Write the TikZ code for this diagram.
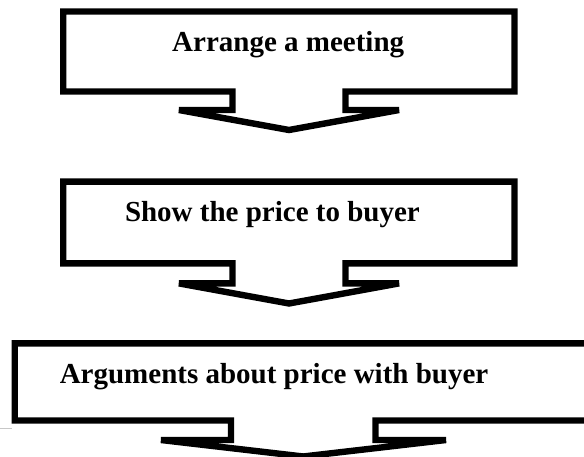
\documentclass[tikz,border=0pt]{standalone}
\usepackage{fontspec}
\setmainfont{Liberation Serif}
\begin{document}
\begin{tikzpicture}[x=1pt,y=-1pt,
  callbox/.style={draw=black, fill=white, line width=6.4pt, line join=miter},
  steptext/.style={anchor=base west, inner sep=0pt, font=\fontsize{29}{34}\selectfont\bfseries},
  stray/.style={draw=black!22, line width=1.3pt}]
\useasboundingbox (0,0) rectangle (584,457);
\clip (0,0) rectangle (584,457);
\fill[white] (0,0) rectangle (584,457);
% box 1
\draw[callbox] (63.2,11.5) -- (514.5,11.5) -- (514.5,91.5) -- (345.5,91.5) -- (345.5,110)
  -- (399,110) -- (289,130) -- (179,110) -- (232.5,110) -- (232.5,91.5) -- (63.2,91.5) -- cycle;
% box 2
\draw[callbox] (63.2,181.7) -- (514.5,181.7) -- (514.5,263.4) -- (345.5,263.4) -- (345.5,283.4)
  -- (399,283.4) -- (289,303.5) -- (179,283.4) -- (232.5,283.4) -- (232.5,263.4) -- (63.2,263.4) -- cycle;
% box 3
\draw[callbox] (14.7,343.3) -- (591.3,343.3) -- (591.3,420.5) -- (375.5,420.5) -- (375.5,440)
  -- (446,440) -- (303.2,456.5) -- (161,440) -- (231,440) -- (231,420.5) -- (14.7,420.5) -- cycle;
\node[steptext] (t1) at (172,51.7) {Arrange a meeting};
\node[steptext] (t2) at (124.8,221.7) {Show the price to buyer};
\node[steptext] (t3) at (59.6,383.3) {Arguments about price with buyer};
\coordinate (g1) at (0,428.3);
\coordinate (g2) at (11.5,428.3);
\draw[stray] (g1) -- (g2);
\end{tikzpicture}
\end{document}
